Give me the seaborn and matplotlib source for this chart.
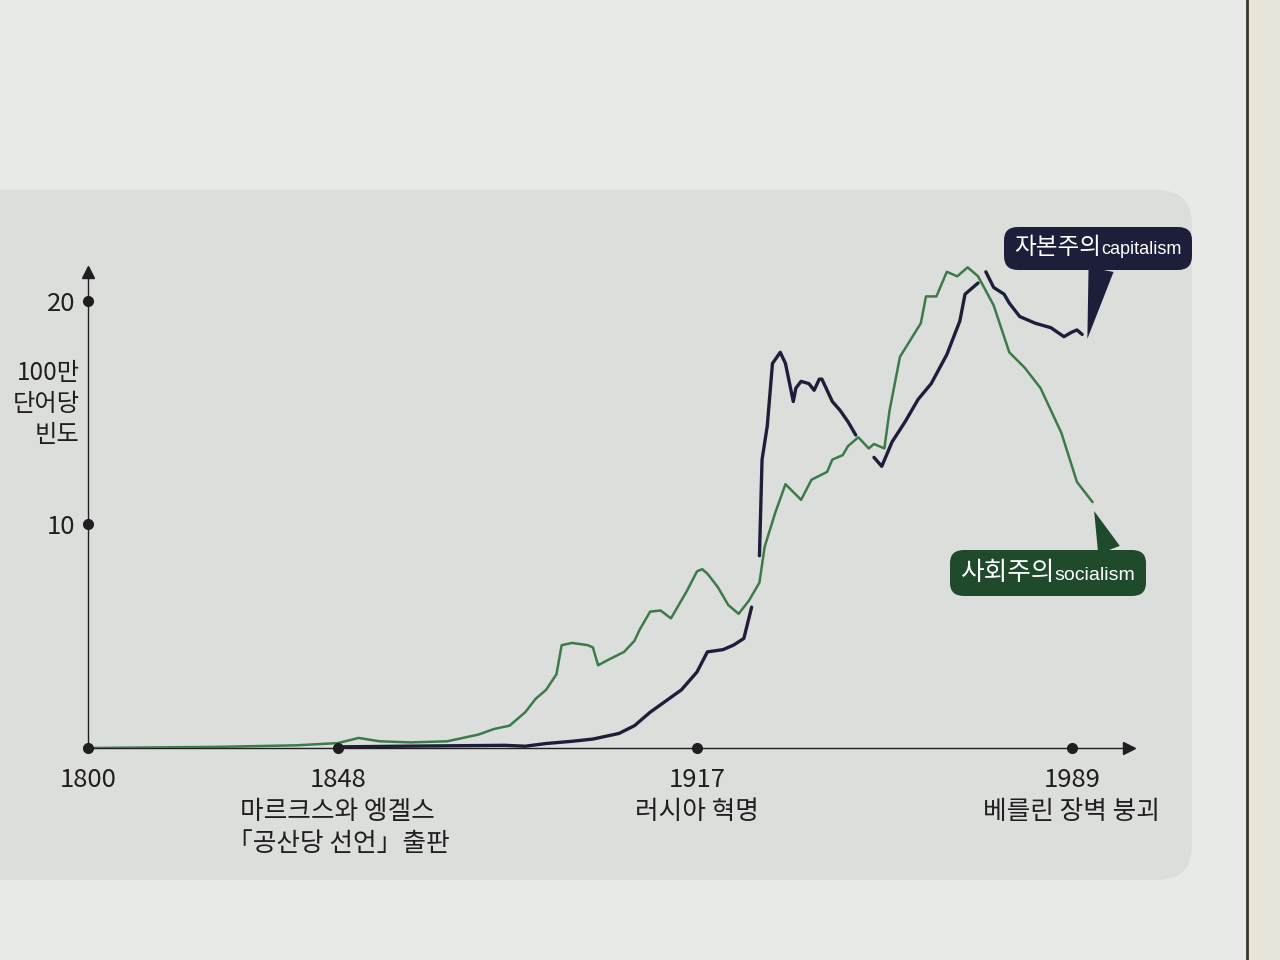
import matplotlib
matplotlib.use("Agg")
import matplotlib.pyplot as plt
from matplotlib.patches import FancyBboxPatch, Rectangle
from matplotlib.lines import Line2D
from matplotlib.offsetbox import TextArea, HPacker, AnnotationBbox
import pandas as pd
import seaborn as sns

# frequency per million words
soc_years = [1800, 1825, 1840, 1848, 1852, 1856, 1862, 1869, 1875, 1878,
             1881, 1884, 1886, 1888, 1890, 1891, 1893, 1896, 1897, 1898,
             1900, 1903, 1905, 1906, 1908, 1910, 1912, 1915, 1917, 1918,
             1919, 1921, 1923, 1925, 1927, 1929, 1930, 1932, 1934, 1937,
             1939, 1942, 1943, 1945, 1946, 1948, 1950, 1951, 1953, 1954,
             1956, 1960, 1961, 1963, 1965, 1967, 1969, 1971, 1974, 1977,
             1980, 1983, 1987, 1990, 1993]
soc_freq = [0.0, 0.05, 0.12, 0.22, 0.45, 0.3, 0.25, 0.3, 0.6, 0.85,
            1.0, 1.6, 2.2, 2.6, 3.3, 4.6, 4.7, 4.6, 4.5, 3.7,
            3.95, 4.3, 4.8, 5.3, 6.1, 6.15, 5.8, 7.0, 7.9, 8.0,
            7.8, 7.2, 6.4, 6.0, 6.6, 7.4, 9.0, 10.5, 11.8, 11.1,
            12.0, 12.35, 12.9, 13.1, 13.5, 13.9, 13.4, 13.6, 13.4, 15.1,
            17.5, 19.0, 20.2, 20.2, 21.3, 21.1, 21.5, 21.1, 19.8, 17.7,
            17.0, 16.1, 14.1, 11.9, 11.0]

# capitalism is printed in four separate pieces
cap1_years = [1848, 1860, 1870, 1880, 1884, 1888, 1893, 1897, 1902, 1905,
              1908, 1911, 1914, 1917, 1919, 1922, 1924, 1926, 1927.5]
cap1_freq = [0.05, 0.08, 0.1, 0.12, 0.08, 0.2, 0.3, 0.4, 0.65, 1.0,
             1.6, 2.1, 2.6, 3.4, 4.3, 4.4, 4.6, 4.9, 6.3]
cap2_years = [1929, 1929.5, 1930.5, 1931.5, 1933, 1934, 1935.5, 1936, 1937,
              1938.5, 1939.5, 1940.5, 1941, 1943, 1944.5, 1946, 1947.5]
cap2_freq = [8.6, 12.9, 14.4, 17.2, 17.7, 17.2, 15.5, 16.1, 16.4,
             16.3, 16.0, 16.5, 16.5, 15.5, 15.1, 14.6, 14.0]
cap3_years = [1951, 1952.5, 1954.5, 1957, 1959.5, 1962, 1965, 1967.5, 1968.5, 1971]
cap3_freq = [13.0, 12.6, 13.7, 14.6, 15.6, 16.3, 17.6, 19.1, 20.3, 20.8]
cap4_years = [1972.5, 1974, 1976, 1977, 1979, 1982, 1985, 1987.5, 1989, 1990, 1991]
cap4_freq = [21.3, 20.6, 20.3, 19.9, 19.3, 19.0, 18.8, 18.4, 18.6, 18.7, 18.5]

tick_years = [1800, 1848, 1917, 1989]
tick_labels = ["1800",
               "1848\n마르크스와 엥겔스\n「공산당 선언」출판",
               "1917\n러시아 혁명",
               "1989\n베를린 장벽 붕괴"]
y_ticks = [10, 20]

sns.set_theme(style="white")
plt.rcParams["font.family"] = ["Noto Sans CJK KR", "DejaVu Sans"]

page = "#e8eae7"
panel = "#dcdedb"
navy = "#1d1e3a"
green_line = "#3b7b49"
green_box = "#1f4a2c"
ink = "#1f1f1f"
narrow = ["Liberation Sans Narrow", "Liberation Sans", "DejaVu Sans"]

fig = plt.figure(figsize=(12.8, 9.6), dpi=100, facecolor=page)

# the next page and the binding at the right edge of the photo
fig.add_artist(Rectangle((0.975, 0), 0.025, 1, transform=fig.transFigure,
                         fc="#e8e6da", ec="none", zorder=-3))
fig.add_artist(Line2D([0.974, 0.974], [0, 1], transform=fig.transFigure,
                      color="#3b3628", lw=2, zorder=-2))
# rounded grey panel behind the chart
fig.add_artist(FancyBboxPatch((-0.3, 0.8), 12.22, 6.9,
                              boxstyle="round,pad=0,rounding_size=0.35",
                              transform=fig.dpi_scale_trans,
                              fc=panel, ec="none", zorder=-1))

ax = fig.add_axes([88 / 1280, 1 - 748 / 960, (1129 - 88) / 1280, 503 / 960])
ax.set_facecolor("none")

cap = pd.concat([
    pd.DataFrame({"year": y, "freq": f, "piece": i})
    for i, (y, f) in enumerate([(cap1_years, cap1_freq), (cap2_years, cap2_freq),
                                (cap3_years, cap3_freq), (cap4_years, cap4_freq)])
])
soc = pd.DataFrame({"year": soc_years, "freq": soc_freq})

sns.lineplot(data=cap, x="year", y="freq", units="piece", estimator=None,
             color=navy, lw=2.4, ax=ax, zorder=3)
sns.lineplot(data=soc, x="year", y="freq", color=green_line, lw=1.8, ax=ax, zorder=4)

ax.set_xlim(1800, 2000)
ax.set_ylim(0, 22.5)
ax.set_xlabel("")
ax.set_ylabel("")

for s in ["top", "right"]:
    ax.spines[s].set_visible(False)
for s in ["left", "bottom"]:
    ax.spines[s].set_color(ink)
    ax.spines[s].set_linewidth(1.0)
ax.spines["left"].set_bounds(0, 21.3)
ax.plot(2000, 0, ">", color=ink, ms=8, clip_on=False, zorder=5)
ax.plot(1800, 21.3, "^", color=ink, ms=8, clip_on=False, zorder=5)

ax.set_xticks(tick_years, tick_labels)
ax.set_yticks(y_ticks, [str(v) for v in y_ticks])
ax.tick_params(axis="x", length=0, pad=14, labelsize=18.5, labelcolor=ink)
ax.tick_params(axis="y", length=0, pad=9, labelsize=18.5, labelcolor=ink)
for t in ax.get_xticklabels():
    t.set_linespacing(1.3)

ax.plot(tick_years, [0] * len(tick_years), "o", color=ink, ms=7, clip_on=False, zorder=6)
ax.plot([tick_years[0]] * len(y_ticks), y_ticks, "o", color=ink, ms=7, clip_on=False, zorder=6)

ax.annotate("100만\n단어당\n빈도", xy=(0, 15.4), xycoords=("axes fraction", "data"),
            xytext=(-6, 0), textcoords="offset points", ha="right", va="center",
            multialignment="right", fontsize=17.5, linespacing=1.25, color=ink)


def callout(big, small, big_size, small_size, color, tip, center, relpos, tail):
    label = HPacker(children=[
        TextArea(big, textprops=dict(color="white", fontsize=big_size)),
        TextArea(small, textprops=dict(color="white", fontsize=small_size, family=narrow)),
    ], align="baseline", pad=0, sep=0)
    box = AnnotationBbox(label, tip, xybox=center, xycoords="data",
                         boxcoords="figure pixels", box_alignment=(0.5, 0.5),
                         fontsize=12, annotation_clip=False,
                         bboxprops=dict(boxstyle="round,pad=0.6,rounding_size=0.8",
                                        fc=color, ec="none"),
                         arrowprops=dict(arrowstyle=f"wedge,tail_width={tail}",
                                         fc=color, ec="none", lw=0,
                                         shrinkA=0, shrinkB=0, relpos=relpos))
    box.set_zorder(7)
    ax.add_artist(box)


callout("자본주의", "capitalism", 17, 13, navy,
        (cap4_years[-1] + 1.0, cap4_freq[-1] - 0.2), (1098, 712), (0.53, 0.0), 1.1)
callout("사회주의", "socialism", 18.5, 14, green_box,
        (soc_years[-1] + 0.3, soc_freq[-1] - 0.4), (1048, 387), (0.87, 1.0), 1.0)

fig.savefig("out.png", dpi=100, facecolor=fig.get_facecolor())
